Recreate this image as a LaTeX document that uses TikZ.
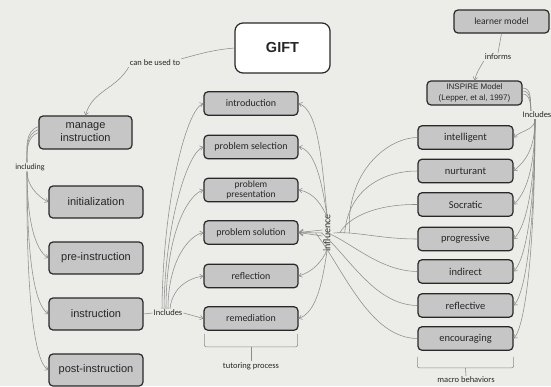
\documentclass[tikz,border=0pt]{standalone}
\usepackage{fontspec}
\setmainfont{Carlito}
\newfontfamily\arialf{Liberation Sans}
\usetikzlibrary{arrows.meta,calc}
\definecolor{bg}{RGB}{236,236,233}
\definecolor{boxgray}{RGB}{198,198,198}
\definecolor{linegray}{RGB}{140,140,140}
\definecolor{edge}{RGB}{40,40,40}
\begin{document}
\begin{tikzpicture}[x=1pt,y=1pt,
  box/.style={draw=edge, line width=1.2pt, fill=boxgray, rounded corners=4pt, inner sep=0pt, align=center, text=black!85},
  lbox/.style={box, minimum width=94pt, minimum height=32pt, font=\arialf\fontsize{11}{13}\selectfont},
  mbox/.style={box, minimum width=94pt, minimum height=23.5pt, font=\fontsize{10}{10.5}\selectfont},
  rbox/.style={box, minimum width=95pt, minimum height=23.5pt, font=\fontsize{10.5}{11}\selectfont},
  lbl/.style={inner sep=1pt, font=\fontsize{8.5}{9}\selectfont, text=black!85},
  conn/.style={draw=linegray, line width=0.55pt},
  arr/.style={conn, -{Straight Barb[length=3pt,width=4.5pt]}},
  brk/.style={draw=linegray, line width=0.6pt, rounded corners=2pt}]
\fill[bg] (0,0) rectangle (551,-386);
\useasboundingbox (0,0) rectangle (551,-386);

% ---------- nodes ----------
\node[box, fill=white, rounded corners=8pt, minimum width=95pt, minimum height=50pt,
      font=\arialf\bfseries\fontsize{14.5}{16}\selectfont] (gift) at (282.5,-48) {GIFT};

\node[lbox, minimum width=93pt, minimum height=33pt] (manage) at (85.5,-132.5) {manage\\instruction};
\node[lbox] (init)  at (96,-202) {initialization};
\node[lbox] (pre)   at (96,-258) {pre-instruction};
\node[lbox] (instr) at (96,-314) {instruction};
\node[lbox] (post)  at (96,-370) {post-instruction};

\node[mbox] (intro) at (251,-103.5) {introduction};
\node[mbox] (psel)  at (251,-147) {problem selection};
\node[mbox, font=\fontsize{9.5}{10.5}\selectfont] (ppres) at (251,-190) {problem\\presentation};
\node[mbox] (psol)  at (251,-232.5) {problem solution};
\node[mbox] (refl)  at (251,-276) {reflection};
\node[mbox] (remed) at (251,-318.5) {remediation};

\node[rbox, minimum height=23pt, font=\fontsize{9.5}{10}\selectfont] (learner) at (501.5,-21.5) {learner model};
\node[rbox, minimum height=24pt, font=\arialf\fontsize{8}{10.5}\selectfont] (inspire) at (474.5,-93) {INSPIRE Model\\(Lepper, et al, 1997)};
\node[rbox] (intel) at (465.5,-137.5) {intelligent};
\node[rbox] (nurt)  at (465.5,-171) {nurturant};
\node[rbox] (socr)  at (465.5,-204.5) {Socratic};
\node[rbox] (progr) at (465.5,-239) {progressive};
\node[rbox] (indir) at (465.5,-271.5) {indirect};
\node[rbox] (reflv) at (465.5,-305.5) {reflective};
\node[rbox] (enco)  at (465.5,-338.5) {encouraging};

% ---------- labels ----------
\node[lbl] (cbu)   at (155,-63) {can be used to};
\node[lbl, font=\fontsize{8}{9}\selectfont] (incl1) at (30,-167) {including};
\node[lbl] (incl2) at (168,-313) {Includes};
\node[lbl, rotate=90, font=\fontsize{10}{11}\selectfont] (infl) at (327,-233) {influence};
\node[lbl] (inf)   at (498,-57) {informs};
\node[lbl] (incl3) at (537,-115) {Includes};
\node[lbl] (tp)    at (251,-366) {tutoring process};
\node[lbl] (mb)    at (466,-380) {macro behaviors};

% ---------- GIFT -> manage ----------
\draw[conn] (gift.west) to[out=185,in=15] (cbu.north east);
\draw[arr] (cbu.south west) to[out=-120,in=75] (manage.north);

% ---------- manage -> including -> phases ----------
\foreach \s in {-3,0,3}
  \draw[conn] ([yshift=\s+3]manage.west) to[out=200,in=90] ([xshift=-3]incl1.north);
\draw[arr] ([xshift=-3]incl1.south) .. controls (27,-185) and (37,-196) .. (init.west);
\draw[arr] ([xshift=-3]incl1.south) .. controls (27,-220) and (35,-250) .. (pre.west);
\draw[arr] ([xshift=-3]incl1.south) .. controls (27,-262) and (35,-305) .. (instr.west);
\draw[arr] ([xshift=-3]incl1.south) .. controls (26,-302) and (35,-362) .. (post.west);

% ---------- instruction -> Includes -> tutoring steps ----------
\draw[conn] (instr.east) -- (incl2.west);
\draw[arr] (incl2.east) -- (remed.west);
\draw[arr] ([xshift=2]incl2.north)  .. controls (172,-290) and (185,-279) .. (refl.west);
\draw[arr] ([xshift=0]incl2.north)  .. controls (168,-262) and (188,-236) .. (psol.west);
\draw[arr] ([xshift=-2]incl2.north) .. controls (166,-232) and (188,-195) .. (ppres.west);
\draw[arr] ([xshift=-4]incl2.north) .. controls (165,-222) and (188,-152) .. (psel.west);
\draw[arr] ([xshift=-6]incl2.north) .. controls (163,-202) and (186,-110) .. (intro.west);

% ---------- influence -> tutoring steps ----------
\draw[arr] ([yshift=-2]infl.east) .. controls (322,-160) and (318,-110) .. (intro.east);
\draw[arr] ([yshift=-3]infl.east) .. controls (322,-182) and (315,-150) .. (psel.east);
\draw[arr] ([yshift=-4]infl.east) .. controls (323,-207) and (314,-192) .. (ppres.east);
\foreach \s in {-3,0,3}
  \draw[conn, -{Straight Barb[length=4pt,width=6pt]}] ([yshift=\s]infl.north) -- (psol.east);
\draw[arr] ([yshift=3]infl.west) .. controls (322,-262) and (312,-272) .. (refl.east);
\draw[arr] ([yshift=2]infl.west) .. controls (322,-285) and (316,-312) .. (remed.east);

% ---------- behaviours -> influence ----------
\draw[conn] (intel.west) .. controls (385,-138) and (345,-175) .. ([xshift=18]infl.south);
\draw[conn] (nurt.west)  .. controls (380,-171) and (348,-192) .. ([xshift=13]infl.south);
\draw[conn] (socr.west)  .. controls (380,-204) and (350,-215) .. ([xshift=8]infl.south);
\draw[conn] (progr.west) .. controls (380,-239) and (355,-231) .. ([xshift=2]infl.south);
\draw[conn] (indir.west) .. controls (380,-271) and (352,-243) .. ([xshift=-4]infl.south);
\draw[conn] (reflv.west) .. controls (375,-305) and (350,-258) .. ([xshift=-10]infl.south);
\draw[conn] (enco.west)  .. controls (370,-338) and (345,-272) .. ([xshift=-16]infl.south);

% ---------- learner model -> INSPIRE ----------
\draw[conn] (learner.south) to[out=-100,in=80] (inf.north);
\draw[arr] (inf.south west) to[out=-120,in=75] (inspire.north);

% ---------- INSPIRE -> Includes -> behaviours ----------
\foreach \s in {-3,0,3}
  \draw[conn] ([yshift=\s+2]inspire.east) to[out=0,in=95] ([xshift=-6]incl3.north);
\draw[arr] ([xshift=-2]incl3.south) .. controls (535,-130) and (522,-130) .. (intel.east);
\draw[arr] ([xshift=-2]incl3.south) .. controls (535,-151) and (524,-162) .. (nurt.east);
\draw[arr] ([xshift=-2]incl3.south) .. controls (535,-171) and (525,-194) .. (socr.east);
\draw[arr] ([xshift=-2]incl3.south) .. controls (535,-191) and (525,-228) .. (progr.east);
\draw[arr] ([xshift=-2]incl3.south) .. controls (535,-211) and (525,-260) .. (indir.east);
\draw[arr] ([xshift=-2]incl3.south) .. controls (535,-231) and (525,-294) .. (reflv.east);
\draw[arr] ([xshift=-2]incl3.south) .. controls (535,-251) and (525,-327) .. (enco.east);

% ---------- brackets ----------
\draw[brk] ([shift={(1,-3)}]remed.south west) -- ([shift={(1,-16)}]remed.south west)
           -- ([shift={(-1,-16)}]remed.south east) -- ([shift={(-1,-3)}]remed.south east);
\draw[brk] ([yshift=-16]remed.south) -- (tp.north);
\draw[brk] ([yshift=-6]enco.south west) -- ([yshift=-17]enco.south west)
           -- ([yshift=-17]enco.south east) -- ([yshift=-6]enco.south east);
\draw[brk] ([yshift=-17]enco.south) -- (mb.north);
\end{tikzpicture}
\end{document}
